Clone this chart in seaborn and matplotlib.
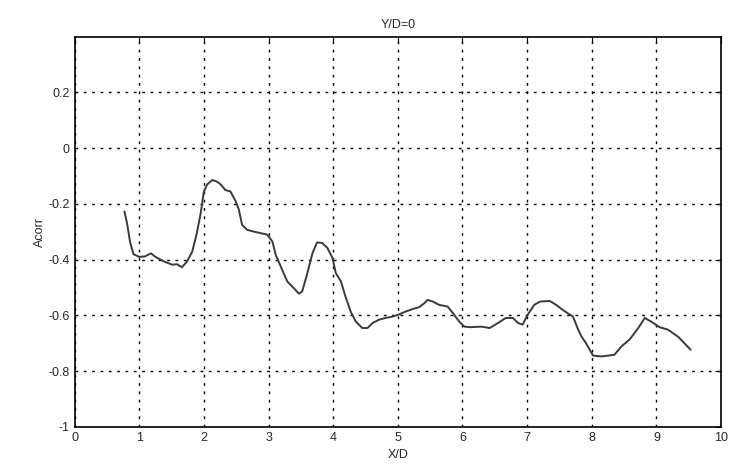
import numpy as np
import pandas as pd
import seaborn as sns
import matplotlib
matplotlib.use("Agg")
import matplotlib.pyplot as plt

x_d = [0.77, 0.81, 0.86, 0.91, 1.0, 1.09, 1.18, 1.25, 1.38, 1.51, 1.58, 1.66, 1.74, 1.82,
       1.89, 1.95, 2.0, 2.05, 2.13, 2.2, 2.26, 2.33, 2.41, 2.49, 2.54, 2.59, 2.67, 2.77,
       2.88, 2.98, 3.06, 3.11, 3.21, 3.29, 3.39, 3.47, 3.52, 3.6, 3.68, 3.75, 3.83, 3.91,
       3.99, 4.04, 4.12, 4.19, 4.27, 4.35, 4.45, 4.53, 4.61, 4.71, 4.81, 4.92, 5.01, 5.12,
       5.23, 5.33, 5.41, 5.46, 5.54, 5.64, 5.77, 5.87, 5.95, 6.03, 6.13, 6.29, 6.42, 6.55,
       6.67, 6.78, 6.86, 6.93, 7.01, 7.11, 7.2, 7.35, 7.45, 7.55, 7.71, 7.79, 7.84, 7.91,
       8.02, 8.15, 8.35, 8.46, 8.59, 8.72, 8.82, 8.92, 9.05, 9.18, 9.34, 9.53]
acorr = [-0.227, -0.269, -0.34, -0.38, -0.39, -0.388, -0.377, -0.39, -0.406, -0.418, -0.416,
         -0.427, -0.406, -0.37, -0.305, -0.233, -0.155, -0.13, -0.114, -0.12, -0.13, -0.15,
         -0.155, -0.19, -0.22, -0.275, -0.293, -0.299, -0.305, -0.31, -0.335, -0.382, -0.436,
         -0.478, -0.502, -0.522, -0.514, -0.448, -0.376, -0.338, -0.34, -0.358, -0.394, -0.448,
         -0.478, -0.532, -0.586, -0.622, -0.645, -0.645, -0.627, -0.615, -0.609, -0.604, -0.597,
         -0.586, -0.577, -0.57, -0.556, -0.544, -0.55, -0.562, -0.568, -0.597, -0.622, -0.64,
         -0.642, -0.64, -0.645, -0.627, -0.609, -0.609, -0.627, -0.633, -0.597, -0.562, -0.55,
         -0.548, -0.562, -0.58, -0.604, -0.651, -0.675, -0.699, -0.744, -0.747, -0.741, -0.711,
         -0.685, -0.645, -0.609, -0.622, -0.642, -0.651, -0.677, -0.723]

x_ticks = list(range(0, 11))
y_ticks = [-1, -0.8, -0.6, -0.4, -0.2, 0, 0.2]
y_tick_labels = ["-1", "-0.8", "-0.6", "-0.4", "-0.2", "0", "0.2"]

sns.set_style("white")
plt.rcParams['font.family'] = ['Liberation Sans', 'DejaVu Sans']

df = pd.DataFrame({"X/D": x_d, "Acorr": acorr})

fig = plt.figure(figsize=(7.32, 4.70), dpi=100)
ax = fig.add_axes([0.102, 0.0915, 0.883, 0.8305])
sns.lineplot(data=df, x="X/D", y="Acorr", ax=ax, color="#3a3a3a", linewidth=1.4)

ax.set_xlim(0, 10)
ax.set_ylim(-1, 0.4)
ax.set_xticks(x_ticks)
ax.set_yticks(y_ticks)
ax.set_yticklabels(y_tick_labels)
ax.grid(True, color="black", linestyle=(0, (2, 4)), linewidth=1.0)
ax.tick_params(direction="in", labelsize=9, length=4, color="black",
               top=True, right=True)
for s in ax.spines.values():
    s.set_color("black")
    s.set_linewidth(1.2)

ax.set_xlabel("X/D", fontsize=9)
ax.set_ylabel("Acorr", fontsize=9, labelpad=2)
ax.set_title("Y/D=0", fontsize=9)

fig.savefig("out.png", dpi=100)
